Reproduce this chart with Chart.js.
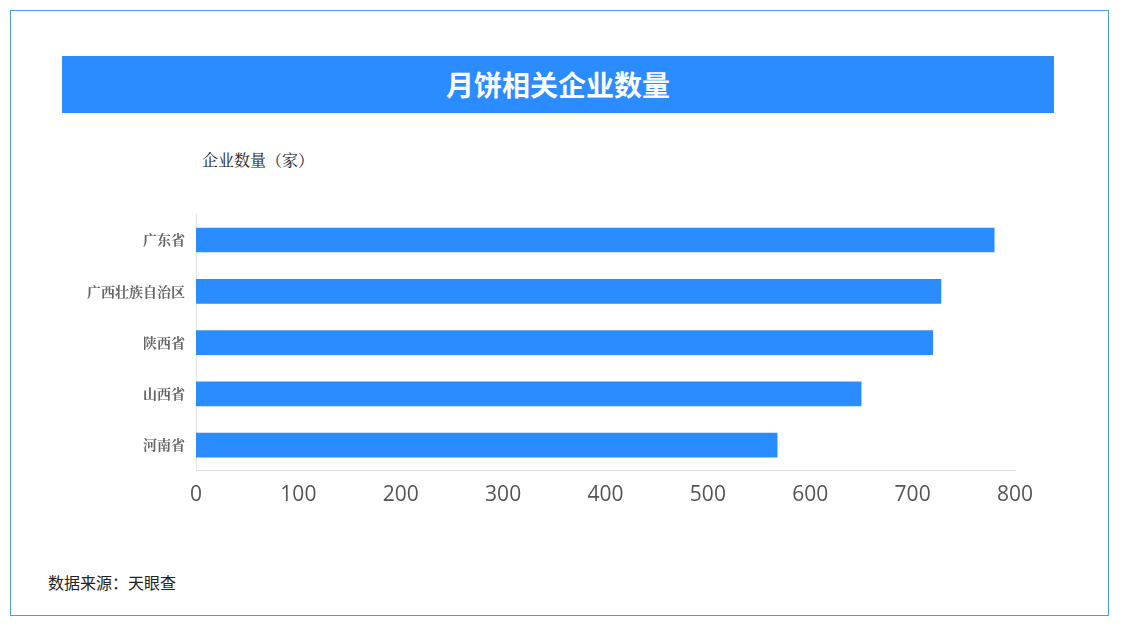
<!DOCTYPE html>
<html><head><meta charset="utf-8">
<script src="https://cdn.jsdelivr.net/npm/chart.js@4"></script>
<style>
body{margin:0;width:1124px;height:626px;background:#fff;position:relative;overflow:hidden;font-family:"Noto Sans CJK SC",sans-serif}
.frame{position:absolute;left:10px;top:10px;width:1097px;height:604px;border:1.5px solid #4a9fe0}
.title{position:absolute;left:62px;top:56px;width:992px;height:57px;background:#2b8cff;color:#fff;font-size:28px;font-weight:bold;text-align:center;line-height:57px}
.unit{position:absolute;left:202px;top:148px;font-size:16px;color:#222;font-family:"Noto Serif CJK SC","Noto Sans CJK SC",serif}
.src{position:absolute;left:48px;top:570px;font-size:16px;color:#222}
#wrap{position:absolute;left:0;top:195px;width:1124px;height:325px}
</style></head><body>
<div class="frame"></div>
<div class="title">月饼相关企业数量</div>
<div class="unit">企业数量（家）</div>
<div class="src">数据来源：天眼查</div>
<div id="wrap"><canvas id="c"></canvas></div>
<script>
var provinces = ['广东省', '广西壮族自治区', '陕西省', '山西省', '河南省'];
var companyCounts = [780, 728, 720, 650, 568];
var xTicks = [0, 100, 200, 300, 400, 500, 600, 700, 800];

new Chart(document.getElementById('c'), {
    type: 'bar',
    data: {
        labels: provinces,
        datasets: [{
            data: companyCounts,
            backgroundColor: '#2b8cff',
            barPercentage: 0.48,
            categoryPercentage: 1
        }]
    },
    options: {
        indexAxis: 'y',
        responsive: true,
        maintainAspectRatio: false,
        animation: false,
        layout: { padding: { top: 7, right: 109, left: 0, bottom: 0 } },
        plugins: { legend: { display: false }, tooltip: { enabled: false } },
        scales: {
            x: {
                min: 0, max: 800,
                afterBuildTicks: function (axis) { axis.ticks = xTicks.map(function (v) { return { value: v }; }); },
                grid: { display: false, drawTicks: false },
                border: { color: '#e3e3e3' },
                ticks: { color: '#555', font: { size: 21, family: 'Open Sans' }, padding: 12 }
            },
            y: {
                afterFit: function (axis) { axis.width = 196; },
                grid: { display: false, drawTicks: false },
                border: { color: '#e3e3e3' },
                ticks: { color: '#666', font: { size: 14, weight: 'bold', family: 'Noto Serif CJK SC' }, padding: 11 }
            }
        }
    }
});
</script>
</body></html>
